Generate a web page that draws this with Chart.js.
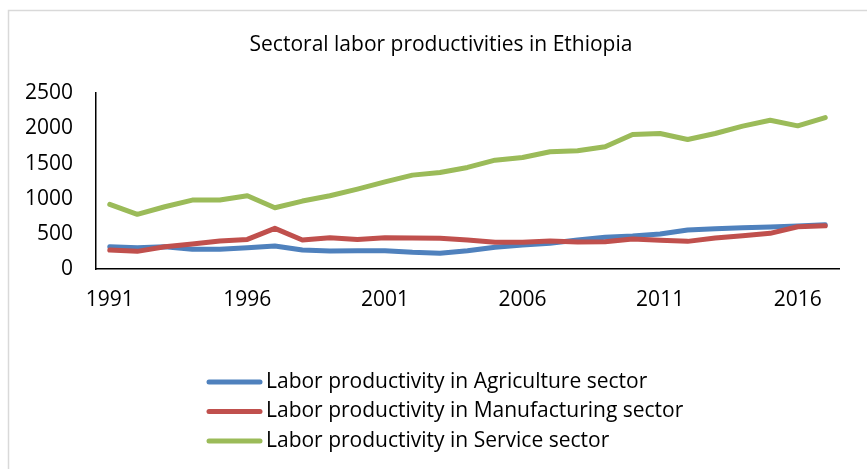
<!DOCTYPE html>
<html>
<head>
<meta charset="utf-8">
<script src="https://cdn.jsdelivr.net/npm/chart.js@4.4.1/dist/chart.umd.min.js"></script>
<style>
  html, body { margin: 0; padding: 0; background: #fff; overflow: hidden; }
  #chart-container { width: 867px; height: 469px; position: relative; }
</style>
</head>
<body>
<div id="chart-container"><canvas id="chart"></canvas></div>
<script>
const years = ['1991', '1992', '1993', '1994', '1995', '1996', '1997', '1998', '1999', '2000',
    '2001', '2002', '2003', '2004', '2005', '2006', '2007', '2008', '2009', '2010',
    '2011', '2012', '2013', '2014', '2015', '2016', '2017'];
const tickYears = ['1991', '1996', '2001', '2006', '2011', '2016'];
const agriculture = [317, 303, 317, 280, 280, 303, 327, 270, 256, 260, 260, 237, 223, 260,
    308, 341, 365, 412, 450, 469, 497, 554, 573, 587, 597, 611, 629];
const manufacturing = [270, 251, 317, 355, 398, 421, 578, 412, 445, 421, 445, 440, 436, 412,
    379, 379, 398, 384, 388, 426, 408, 393, 440, 473, 507, 601, 615];
const service = [919, 777, 885, 980, 980, 1041, 871, 966, 1041, 1136, 1240, 1335, 1373, 1444,
    1548, 1586, 1667, 1681, 1738, 1913, 1927, 1842, 1927, 2031, 2116, 2036, 2154];
const seriesLabels = [
    'Labor productivity in Agriculture sector',
    'Labor productivity in Manufacturing sector',
    'Labor productivity in Service sector'
];
const seriesColors = ['#4f81bd', '#c0504d', '#9bbb59'];

const fontFamily = "'Open Sans', sans-serif";
const fontSize = 21;

// light frame round the chart, as in the original export
const framePlugin = {
    id: 'frame',
    beforeDraw: (chart) => {
        const { ctx } = chart;
        ctx.save();
        ctx.strokeStyle = '#d9d9d9';
        ctx.lineWidth = 1.5;
        ctx.strokeRect(8.5, 10.5, 2000, 2000);
        ctx.restore();
    }
};

// left aligned legend list under the axis
const legendPlugin = {
    id: 'listLegend',
    afterDraw: (chart) => {
        const { ctx } = chart;
        const left = 207;
        const lineLen = 55;
        const firstRow = 382;
        const rowGap = 29.5;
        ctx.save();
        ctx.font = `${fontSize}px ${fontFamily}`;
        ctx.textBaseline = 'middle';
        chart.data.datasets.forEach((ds, i) => {
            const y = firstRow + i * rowGap;
            ctx.strokeStyle = ds.borderColor;
            ctx.lineWidth = 5;
            ctx.lineCap = 'round';
            ctx.beginPath();
            ctx.moveTo(left + 2, y);
            ctx.lineTo(left + lineLen - 2, y);
            ctx.stroke();
            ctx.fillStyle = '#000';
            ctx.fillText(ds.label, left + lineLen + 4, y);
        });
        ctx.restore();
    }
};

const makeDataset = (label, data, color, order) => ({
    label,
    data,
    borderColor: color,
    backgroundColor: color,
    borderWidth: 5,
    pointRadius: 0,
    pointHoverRadius: 0,
    tension: 0,
    borderCapStyle: 'round',
    borderJoinStyle: 'round',
    order
});

const ctx = document.getElementById('chart');
const chart = new Chart(ctx, {
    type: 'line',
    data: {
        labels: years,
        datasets: [
            makeDataset(seriesLabels[0], agriculture, seriesColors[0], 3),
            makeDataset(seriesLabels[1], manufacturing, seriesColors[1], 2),
            makeDataset(seriesLabels[2], service, seriesColors[2], 1)
        ]
    },
    options: {
        responsive: true,
        maintainAspectRatio: false,
        animation: false,
        devicePixelRatio: 1,
        layout: {
            padding: { left: 15, right: 0, top: 0, bottom: 160 }
        },
        plugins: {
            legend: { display: false },
            tooltip: { enabled: false },
            title: {
                display: true,
                text: 'Sectoral labor productivities in Ethiopia',
                color: '#000',
                font: { family: fontFamily, size: fontSize, weight: 'normal', lineHeight: 1.2 },
                padding: { top: 32, bottom: 36 }
            }
        },
        scales: {
            x: {
                offset: true,
                grid: { display: false, drawTicks: false },
                border: { display: true, color: '#000', width: 1.5 },
                ticks: {
                    autoSkip: false,
                    maxRotation: 0,
                    padding: 18,
                    color: '#000',
                    font: { family: fontFamily, size: fontSize },
                    callback: (value, index) => tickYears.includes(years[index]) ? years[index] : null
                },
                afterFit: (scale) => { scale.height = 40; }
            },
            y: {
                min: 0,
                max: 2500,
                grid: { display: false, drawTicks: false },
                border: { display: true, color: '#000', width: 1.5 },
                ticks: {
                    stepSize: 500,
                    padding: 23,
                    color: '#000',
                    font: { family: fontFamily, size: fontSize },
                    callback: (value) => String(value)
                },
                afterFit: (scale) => { scale.width = 81; }
            },
            // empty right-hand axis, only keeps the white margin right of the plot
            yRight: {
                position: 'right',
                min: 0,
                max: 2500,
                grid: { display: false, drawTicks: false },
                border: { display: false },
                ticks: { display: false },
                afterFit: (scale) => { scale.width = 28; }
            }
        }
    },
    plugins: [framePlugin, legendPlugin]
});
</script>
</body>
</html>
